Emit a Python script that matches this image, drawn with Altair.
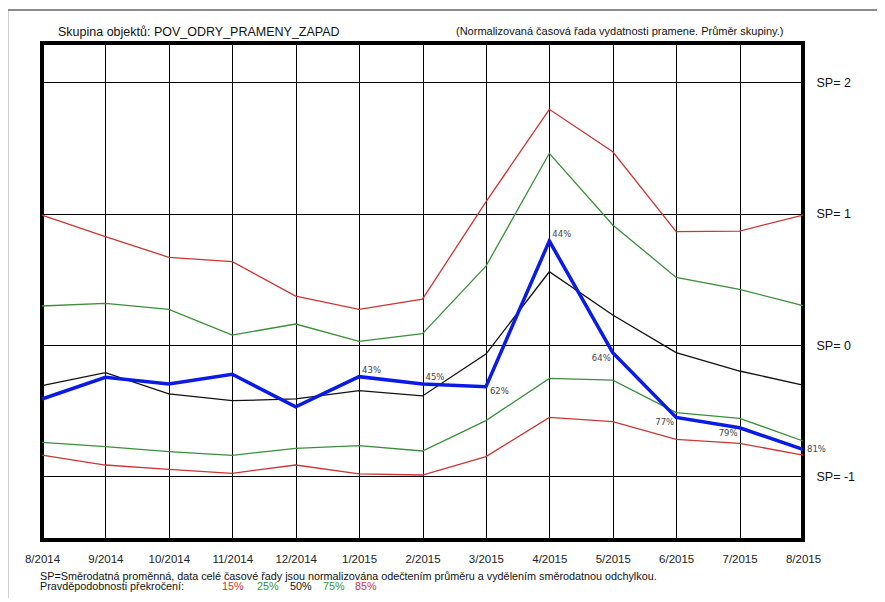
import altair as alt
import pandas as pd

months = ["8/2014", "9/2014", "10/2014", "11/2014", "12/2014", "1/2015", "2/2015",
          "3/2015", "4/2015", "5/2015", "6/2015", "7/2015", "8/2015"]

p15 = [0.99, 0.825, 0.668, 0.635, 0.373, 0.272, 0.35, 1.09, 1.795, 1.472, 0.863, 0.868, 0.99]
p25 = [0.297, 0.317, 0.272, 0.076, 0.16, 0.028, 0.086, 0.60, 1.46, 0.914, 0.515, 0.424, 0.30]
p50 = [-0.31, -0.211, -0.373, -0.424, -0.411, -0.348, -0.388, -0.069, 0.558, 0.228, -0.058, -0.198, -0.305]
p75 = [-0.741, -0.774, -0.812, -0.84, -0.787, -0.767, -0.807, -0.576, -0.254, -0.267, -0.515, -0.558, -0.731]
p85 = [-0.838, -0.914, -0.947, -0.977, -0.914, -0.982, -0.99, -0.85, -0.551, -0.584, -0.718, -0.749, -0.838]
actual = [-0.411, -0.246, -0.297, -0.223, -0.47, -0.241, -0.297, -0.317, 0.792, -0.058, -0.551, -0.63, -0.795]
pct_labels = ["", "", "", "", "", "43%", "45%", "62%", "44%", "64%", "77%", "79%", "81%"]

series_names = ["15%", "25%", "50%", "75%", "85%"]
series_vals = [p15, p25, p50, p75, p85]
series_colors = ["#cc3535", "#3a8f3a", "#111111", "#3a8f3a", "#cc3535"]

W, H = 761, 497
FONT = "Liberation Sans"

rows = []
for name, vals in zip(series_names, series_vals):
    for i, v in enumerate(vals):
        rows.append({"s": name, "i": i, "v": v})
bands = pd.DataFrame(rows)

act = pd.DataFrame({"i": list(range(len(months))), "v": actual, "lab": pct_labels, "m": months})

label_expr = "[" + ",".join("'%s'" % m for m in months) + "][datum.value]"

xs = alt.Scale(domain=[0, 12], nice=False, zero=False)
ys = alt.Scale(domain=[-1.485, 2.30], nice=False, zero=False)

x_enc = alt.X("i:Q", scale=xs, axis=alt.Axis(
    values=list(range(13)), labelExpr=label_expr, grid=True, gridColor="#000000",
    gridWidth=1, ticks=False, domain=False, labelFont=FONT, labelFontSize=11.5,
    labelColor="#222222", labelPadding=13, title=None, labelFlush=False))
y_enc = alt.Y("v:Q", scale=ys, axis=alt.Axis(
    orient="right", values=[-1, 0, 1, 2], labelExpr="'SP= ' + datum.value",
    grid=True, gridColor="#000000", gridWidth=1, ticks=False, domain=False,
    labelFont=FONT, labelFontSize=12.5, labelColor="#111111", labelPadding=13,
    title=None, labelBaseline="middle"))

band_lines = alt.Chart(bands).mark_line(strokeWidth=1.3).encode(
    x=x_enc, y=y_enc,
    color=alt.Color("s:N", scale=alt.Scale(domain=series_names, range=series_colors), legend=None),
    detail="s:N",
)

blue = alt.Chart(act).mark_line(color="#0b1be6", strokeWidth=3.5).encode(
    x=alt.X("i:Q", scale=xs), y=alt.Y("v:Q", scale=ys))

def lab_layer(sel, align, dx, dy):
    return alt.Chart(act).transform_filter(
        alt.FieldOneOfPredicate(field="m", oneOf=sel)
    ).mark_text(align=align, baseline="middle", dx=dx, dy=dy, font="DejaVu Sans",
                fontSize=8.5, color="#444444").encode(
        x=alt.X("i:Q", scale=xs), y=alt.Y("v:Q", scale=ys), text="lab:N")

labs_above = lab_layer(["1/2015", "2/2015", "4/2015"], "left", 3, -7)
labs_right = lab_layer(["3/2015"], "left", 4, 4)
labs_end = lab_layer(["8/2015"], "left", 4, 0)
labs_left = lab_layer(["5/2015", "6/2015", "7/2015"], "right", -2, 5)

dummy = pd.DataFrame({"k": [0]})

def txt(s, x, y, size=11, color="#111111", weight="normal"):
    return alt.Chart(dummy).mark_text(text=s, align="left", baseline="alphabetic",
                                      font=FONT, fontSize=size, color=color,
                                      fontWeight=weight).encode(
        x=alt.value(x), y=alt.value(y))

def hrule(x, x2, y, color="#666666", w=1.6):
    return alt.Chart(dummy).mark_rule(color=color, strokeWidth=w).encode(
        x=alt.value(x), x2=alt.value(x2), y=alt.value(y))

def vrule(x, y, y2, color="#666666", w=1.6):
    return alt.Chart(dummy).mark_rule(color=color, strokeWidth=w).encode(
        x=alt.value(x), y=alt.value(y), y2=alt.value(y2))

title_l = txt("Skupina objektů: POV_ODRY_PRAMENY_ZAPAD", 16, -7, size=12.5)
title_r = txt("(Normalizovaná časová řada vydatnosti pramene. Průměr skupiny.)", 414, -8.5, size=11)
foot1 = txt("SP=Směrodatná proměnná, data celé časové řady jsou normalizována odečtením průměru a vydělením směrodatnou odchylkou.", -2, 536.5, size=10.8)
foot2 = txt("Pravděpodobnosti překročení:", -2, 547, size=10.8)
leg = [txt(n, x, 547, size=10.8, color=c) for n, x, c in zip(series_names, [180, 215, 248, 281, 313], series_colors)]

frame_top = hrule(-34, 843, -33)
frame_left = vrule(-34.5, -33, 555)

chart = alt.layer(
    frame_top, frame_left, band_lines, blue,
    labs_above, labs_right, labs_end, labs_left,
    title_l, title_r, foot1, foot2, *leg
).properties(
    width=W, height=H,
    autosize="none",
    padding={"left": 34, "top": 35, "right": 74, "bottom": 58},
).configure(
    background="white"
).configure_view(
    stroke="#000000", strokeWidth=4
)

chart.save("out.html", embed_options={"renderer": "svg", "actions": False})
